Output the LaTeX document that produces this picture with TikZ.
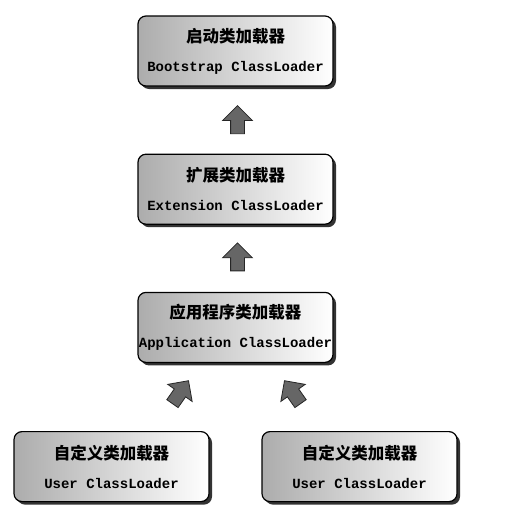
\documentclass[tikz,border=0pt]{standalone}
\usepackage{fontspec}
\setmonofont{Liberation Mono}
\newfontfamily\cjk{Noto Sans CJK SC}
\usetikzlibrary{shapes,shadows,positioning,calc}

\begin{document}
\begin{tikzpicture}[
    x=1pt, y=1pt,
    node distance=67pt,
    loader/.style={draw, rectangle, line width=1.2pt, rounded corners=8pt, minimum width=195pt, minimum height=70pt, align=center, inner sep=0pt, left color=gray!65, right color=white, drop shadow={shadow xshift=3pt, shadow yshift=-3pt, fill=black!80, opacity=1}, font=\fontsize{14}{29}\selectfont\bfseries},
    uparrow/.style={single arrow, draw=black!85, fill=black!60, line width=0.8pt, inner sep=6.5pt, minimum height=28pt, single arrow head extend=8pt},
]
    \useasboundingbox (0,0) rectangle (509,-523);

    \node [loader] (boot) at (235.5,-51) {{\cjk\fontsize{16.5}{29}\selectfont 启动类加载器}\\\ttfamily Bootstrap ClassLoader};
    \node [loader, below=of boot] (ext) {{\cjk\fontsize{16.5}{29}\selectfont 扩展类加载器}\\\ttfamily Extension ClassLoader};
    \node [loader, below=of ext] (app) {{\cjk\fontsize{16.5}{29}\selectfont 应用程序类加载器}\\\ttfamily Application ClassLoader};
    \node [loader, below=68pt of app, xshift=-124pt] (userl) {{\cjk\fontsize{16.5}{29}\selectfont 自定义类加载器}\\\ttfamily User ClassLoader};
    \node [loader, below=68pt of app, xshift=124pt] (userr) {{\cjk\fontsize{16.5}{29}\selectfont 自定义类加载器}\\\ttfamily User ClassLoader};

    \node [uparrow, rotate=90] (up1) at ($(boot.south)!0.5!(ext.north)+(2,-3)$) {};
    \node [uparrow, rotate=90] (up2) at ($(ext.south)!0.5!(app.north)+(2,-2)$) {};
    \node [uparrow, rotate=55] (upl) at ($(app.south)+(-57,-32)$) {};
    \node [uparrow, rotate=125] (upr) at ($(app.south)+(59,-32)$) {};

\end{tikzpicture}
\end{document}
